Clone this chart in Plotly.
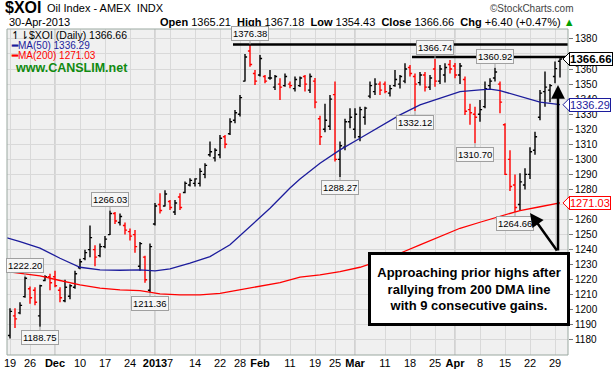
import plotly.graph_objects as go

# ---------------- DATA ----------------
# trading-day index 0 = 19-Nov-2012 ... 110 = 30-Apr-2013
opens = [1183, 1196, 1198, 1208.8, 1214, 1213, 1196, 1219.5, 1222, 1222,
         1213, 1206, 1209, 1215, 1228, 1234, 1240, 1240, 1236, 1242,
         1250, 1264, 1258, 1256, 1252, 1250, 1229, 1235, 1213, 1257,
         1270, 1269, 1272, 1265, 1275, 1278, 1283, 1284, 1284, 1290,
         1303, 1301, 1303, 1315, 1317, 1326, 1330, 1352, 1372, 1357,
         1356, 1355, 1354, 1348, 1350, 1349, 1350, 1347, 1349, 1355,
         1346, 1352, 1327, 1320, 1322, 1343, 1300, 1308, 1325, 1320,
         1315, 1328, 1342, 1345, 1350, 1350, 1344, 1349, 1350, 1352,
         1361, 1355, 1351, 1356, 1348, 1360, 1352, 1356, 1363, 1362,
         1356, 1353, 1333, 1330, 1330, 1335, 1349, 1354, 1350, 1323,
         1300, 1283, 1270, 1283, 1290, 1306, 1328, 1345, 1346, 1355,
         1365.21]
highs = [1201, 1201, 1205, 1222.2, 1215.5, 1215, 1216.6, 1223, 1224, 1226,
         1215, 1220, 1217, 1226, 1234, 1240, 1256, 1243, 1244, 1249,
         1266.03, 1265, 1264, 1258, 1254, 1253, 1245, 1236, 1244, 1271,
         1277.5, 1279.5, 1273, 1273, 1277.5, 1285.2, 1287.4, 1287.4, 1294.1, 1297.4,
         1311.8, 1307.4, 1316.2, 1316.2, 1327.3, 1332.8, 1342.8, 1370, 1376.38, 1359.4,
         1369.4, 1356, 1359.4, 1356, 1353.9, 1357, 1351.7, 1355, 1355, 1356,
         1357, 1354, 1329, 1337, 1342.8, 1351.7, 1311.8, 1327, 1334, 1334,
         1335, 1335, 1351.7, 1353.9, 1351.7, 1351.7, 1349.4, 1359.4, 1356, 1363.8,
         1362.7, 1357, 1358, 1358, 1356, 1366.74, 1362.7, 1363.8, 1366, 1364,
         1364, 1355, 1337, 1335, 1339.5, 1351.7, 1353.9, 1360.92, 1351.7, 1324,
         1306, 1290, 1290.8, 1294, 1308, 1318.4, 1346.1, 1358.3, 1350, 1365,
         1367.18]
lows = [1181, 1188, 1197, 1208, 1204, 1203, 1188.75, 1219, 1213, 1215,
        1205, 1205, 1207, 1214, 1227, 1233, 1235, 1229, 1235, 1241,
        1249.8, 1257, 1256, 1250, 1246, 1238, 1226, 1218, 1211.36, 1256,
        1264, 1268.6, 1266.4, 1263, 1266.4, 1277.5, 1281.9, 1281.9, 1281.9, 1287.4,
        1301.8, 1298.5, 1300.7, 1307.4, 1316.2, 1324, 1328.4, 1351.7, 1361.6, 1349.4,
        1355, 1350.6, 1352.8, 1346, 1339.5, 1348.3, 1347.2, 1345, 1348, 1345,
        1344, 1334, 1309.6, 1318, 1319.5, 1298.5, 1288.27, 1306, 1320.7, 1314,
        1312, 1323, 1340.6, 1342.8, 1342.8, 1343.9, 1341.7, 1348.3, 1347, 1350.6,
        1355, 1332.12, 1349, 1345, 1346, 1348.3, 1350, 1351, 1357, 1353.9,
        1350, 1329.5, 1323, 1310.7, 1325, 1334, 1346, 1351.7, 1330.6, 1289.6,
        1279, 1264.66, 1266, 1280, 1287, 1303, 1326, 1335, 1338, 1350.6,
        1354.43]
closes = [1199, 1194, 1203, 1221, 1208, 1205, 1216, 1222, 1218, 1216,
          1208, 1215, 1216, 1224, 1232, 1238, 1248, 1235, 1242, 1247,
          1264, 1259, 1262, 1253, 1249, 1242, 1244, 1220, 1242, 1269,
          1266, 1277, 1268, 1271, 1268, 1284, 1286, 1287, 1292, 1296,
          1305, 1306, 1314, 1310, 1325, 1331, 1341, 1368, 1363, 1352,
          1367, 1352, 1354, 1355, 1348, 1355, 1349, 1353, 1354, 1350,
          1355, 1338, 1315, 1326, 1340, 1300, 1309, 1325, 1328, 1330,
          1333, 1334, 1349, 1350, 1346, 1345, 1347, 1353, 1355, 1360,
          1357, 1350, 1356, 1348, 1354, 1352, 1360, 1361, 1360, 1356,
          1362, 1332, 1331, 1328, 1333, 1347, 1352, 1358, 1338, 1290,
          1282, 1268, 1285, 1290, 1305, 1315, 1344, 1348, 1349, 1360.26,
          1366.66]

# moving averages read at sample points (trading-day index, value)
ma50_idx = [-0.6, 2, 6, 10, 14, 18, 22, 26, 29, 32, 36, 40, 44, 48, 52, 56, 58,
            62, 66, 70, 74, 78, 82, 86, 90, 94, 96, 98, 102, 106, 110]
ma50_val = [1247.8, 1245.4, 1241, 1234.3, 1228.3, 1226.5, 1226.3, 1226.5, 1225.9,
            1227.2, 1231, 1235.4, 1243.2, 1255.3, 1267.5, 1281, 1287, 1297.4,
            1306.3, 1314, 1321.8, 1329.5, 1336.2, 1340.6, 1345, 1346.1, 1346.6,
            1345.7, 1341.7, 1338, 1336.29]
ma200_idx = [-0.6, 6, 10, 14, 18, 22, 26, 30, 34, 38, 42, 46, 50, 54, 58, 62, 66,
             70, 74, 78, 82, 86, 90, 94, 98, 102, 106, 110]
ma200_val = [1225.4, 1222.6, 1219.5, 1216.6, 1214.4, 1213.3, 1212.8, 1210.6,
             1209.9, 1209.9, 1211, 1213.3, 1215.5, 1218.1, 1221.7, 1223.2,
             1225.4, 1228.3, 1232.7, 1237.6, 1243.2, 1248.7, 1254.2, 1258.2,
             1262.3, 1266, 1268.5, 1271.03]

tick_idx = [0, 4, 9, 14, 19, 24, 29, 32, 37, 42, 46, 50, 56, 61, 65, 69, 75,
            80, 85, 89, 94, 99, 104, 109]
tick_text = ["19", "26", "<b>Dec</b>", "10", "17", "24", "<b>2013</b>", "7", "14",
             "22", "28", "<b>Feb</b>", "11", "19", "25", "<b>Mar</b>", "11", "18",
             "25", "<b>Apr</b>", "8", "15", "22", "29"]
month_idx = [9, 29, 50, 69, 89]

y_ticks = list(range(1180, 1381, 10))
y_hidden = [1370, 1270]          # covered by the value tags in the reference

high_label_idx = [3, 20, 48, 85, 97]
low_label_idx = [6, 28, 66, 81, 93, 101]

last_open, last_high, last_low, last_close = 1365.21, 1367.18, 1354.43, 1366.66
chg, chg_pct = 6.40, 0.47
ma50_last, ma200_last = 1336.29, 1271.03
resist_hi, resist_lo = 1376.38, 1368.0

# ---------------- FIGURE ----------------
FONT = "Liberation Sans, Arial, sans-serif"
W, H = 616, 379
PL, PR, PT, PB = 7, 568, 29, 355
YMIN, YMAX = 1170, 1386.6


def pxx(x):
    return (x - PL) / (PR - PL)


def pxy(y):
    return (PB - y) / (PB - PT)


UNIT_PX = (PB - PT) / (YMAX - YMIN)

x = list(range(len(closes)))
up = [i == 0 or closes[i] >= closes[i - 1] for i in x]

fig = go.Figure()


def ohlc_trace(sel, color):
    return go.Ohlc(
        x=[x[i] for i in sel], open=[opens[i] for i in sel],
        high=[highs[i] for i in sel], low=[lows[i] for i in sel],
        close=[closes[i] for i in sel],
        increasing=dict(line=dict(color=color, width=1.4)),
        decreasing=dict(line=dict(color=color, width=1.4)),
        tickwidth=0.42, showlegend=False, hoverinfo="skip")


fig.add_trace(go.Scatter(x=ma200_idx, y=ma200_val, mode="lines",
                         line=dict(color="#ff0000", width=1.3), hoverinfo="skip"))
fig.add_trace(go.Scatter(x=ma50_idx, y=ma50_val, mode="lines",
                         line=dict(color="#1c1c9c", width=1.3), hoverinfo="skip"))
fig.add_trace(ohlc_trace([i for i in x if up[i]], "#000000"))
fig.add_trace(ohlc_trace([i for i in x if not up[i]], "#ff0000"))

shapes = []
for m in month_idx:
    shapes.append(dict(type="line", xref="x", yref="paper", x0=m, x1=m, y0=0, y1=1,
                       line=dict(color="#b4b4b4", width=1), layer="below"))
# resistance lines
shapes.append(dict(type="line", xref="x", yref="y", x0=44.6, x1=111.6,
                   y0=resist_hi, y1=resist_hi, line=dict(color="black", width=2.5)))
shapes.append(dict(type="line", xref="x", yref="y", x0=80.4, x1=111.4,
                   y0=resist_lo, y1=resist_lo, line=dict(color="black", width=2.5)))
# plot border
shapes.append(dict(type="rect", xref="paper", yref="paper", x0=0, x1=1, y0=0, y1=1,
                   line=dict(color="#9aa8a0", width=1)))

ann = []
# header
ann.append(dict(xref="paper", yref="paper", x=pxx(3), y=pxy(8), xanchor="left",
                yanchor="middle", showarrow=False, text="<b>$XOI</b>",
                font=dict(family=FONT, size=16, color="black")))
ann.append(dict(xref="paper", yref="paper", x=pxx(45), y=pxy(8), xanchor="left",
                yanchor="middle", showarrow=False, text="Oil Index - AMEX  INDX",
                font=dict(family=FONT, size=11, color="black")))
ann.append(dict(xref="paper", yref="paper", x=pxx(576), y=pxy(9), xanchor="right",
                yanchor="middle", showarrow=False, text="©StockCharts.com",
                font=dict(family=FONT, size=10, color="#444444")))
ann.append(dict(xref="paper", yref="paper", x=pxx(7), y=pxy(22), xanchor="left",
                yanchor="middle", showarrow=False, text="30-Apr-2013",
                font=dict(family=FONT, size=11, color="black")))
stats = (f"<b>Open</b> {last_open:.2f}  <b>High</b> {last_high:.2f}  "
         f"<b>Low</b> {last_low:.2f}  <b>Close</b> {last_close:.2f}  "
         f"<b>Chg</b> +{chg:.2f} (+{chg_pct:.2f}%) "
         f"<span style='color:#00a000'>▲</span>")
ann.append(dict(xref="paper", yref="paper", x=pxx(577), y=pxy(22), xanchor="right",
                yanchor="middle", showarrow=False, text=stats,
                font=dict(family=FONT, size=11, color="black")))
# legend block
ann.append(dict(xref="paper", yref="paper", x=pxx(9), y=pxy(34.5), xanchor="left",
                yanchor="middle", showarrow=False,
                text=f"↿⇂$XOI (Daily) {last_close:.2f}",
                font=dict(family=FONT, size=10.5, color="black")))
ann.append(dict(xref="paper", yref="paper", x=pxx(9), y=pxy(45), xanchor="left",
                yanchor="middle", showarrow=False, text=f"<b>━</b>MA(50) {ma50_last:.2f}",
                font=dict(family=FONT, size=10, color="#1c1c9c")))
ann.append(dict(xref="paper", yref="paper", x=pxx(9), y=pxy(55.5), xanchor="left",
                yanchor="middle", showarrow=False, text=f"<b>━</b>MA(200) {ma200_last:.2f}",
                font=dict(family=FONT, size=10, color="#ff0000")))
ann.append(dict(xref="paper", yref="paper", x=pxx(13), y=pxy(67.5), xanchor="left",
                yanchor="middle", showarrow=False, text="<b>www.CANSLIM.net</b>",
                font=dict(family=FONT, size=12.5, color="#108a10")))

# high / low value tags
for i in high_label_idx:
    ann.append(dict(x=i, y=highs[i], xref="x", yref="y", text=f"{highs[i]:.2f}",
                    showarrow=True, arrowhead=0, arrowwidth=1, arrowcolor="#a0a0a0",
                    ax=0, ay=-11, bgcolor="#f6f6f6", bordercolor="#a0a0a0",
                    borderwidth=1, borderpad=1,
                    font=dict(family=FONT, size=9.5, color="black")))
for i in low_label_idx:
    ann.append(dict(x=i, y=lows[i], xref="x", yref="y", text=f"{lows[i]:.2f}",
                    showarrow=True, arrowhead=0, arrowwidth=1, arrowcolor="#a0a0a0",
                    ax=0, ay=11, bgcolor="#f6f6f6", bordercolor="#a0a0a0",
                    borderwidth=1, borderpad=1,
                    font=dict(family=FONT, size=9.5, color="black")))

# right-axis value boxes with a left-pointing tip
half = 6.5 / UNIT_PX
for val, col, bold in [(last_close, "black", True), (ma50_last, "#1c1c9c", False),
                       (ma200_last, "#ff0000", False)]:
    t = f"{val:.2f}"
    xt, xb = pxx(563), pxx(569.5)
    shapes.append(dict(type="path", xref="paper", yref="y",
                       path=f"M {xt},{val} L {xb},{val + half} L {xb},{val - half} Z",
                       fillcolor="white", line=dict(color=col, width=1), layer="above"))
    ann.append(dict(xref="paper", yref="y", x=1, y=val, xanchor="left", xshift=1,
                    yanchor="middle", showarrow=False,
                    text=f"<b>{t}</b>" if bold else t, bgcolor="white",
                    bordercolor=col, borderwidth=1, borderpad=0,
                    font=dict(family=FONT, size=11.5 if bold else 11, color=col)))

# arrows
ann.append(dict(xref="x", yref="y", axref="x", ayref="y", x=109.6, y=1349.4,
                ax=109.6, ay=1238.5, showarrow=True, arrowhead=2, arrowsize=1.1,
                arrowwidth=2.5, arrowcolor="black", text=""))
ann.append(dict(xref="x", yref="y", axref="x", ayref="y", x=104, y=1264.4,
                ax=109.6, ay=1238.5, showarrow=True, arrowhead=2, arrowsize=1.1,
                arrowwidth=2.5, arrowcolor="black", text=""))
# comment box
ann.append(dict(xref="paper", yref="paper", x=pxx(469), y=pxy(288.5), xanchor="center",
                yanchor="middle", showarrow=False,
                text="<b>Approaching prior highs after<br>rallying from 200 DMA line<br>"
                     "with 9 consecutive gains.</b>",
                bgcolor="white", bordercolor="black", borderwidth=3, borderpad=4,
                width=188, height=60,
                font=dict(family=FONT, size=13, color="black")))

fig.update_layout(
    width=W, height=H, margin=dict(l=PL, r=W - PR, t=PT, b=H - PB, autoexpand=False),
    paper_bgcolor="white", plot_bgcolor="#f0f0f0", showlegend=False,
    font=dict(family=FONT, size=11, color="black"),
    shapes=shapes, annotations=ann)
fig.update_xaxes(range=[-0.6, 111.6], tickmode="array", tickvals=tick_idx,
                 ticktext=tick_text, tickangle=0, automargin=False,
                 showgrid=True, gridcolor="#d9d9d9", gridwidth=1,
                 zeroline=False, ticks="", rangeslider=dict(visible=False),
                 tickfont=dict(family=FONT, size=11, color="black"), fixedrange=True)
fig.update_yaxes(side="right", range=[YMIN, YMAX], tickmode="array",
                 tickvals=y_ticks,
                 ticktext=["" if v in y_hidden else str(v) for v in y_ticks],
                 automargin=False,
                 showgrid=True, gridcolor="#d9d9d9", gridwidth=1, zeroline=False,
                 ticks="outside", ticklen=4, tickcolor="#777777",
                 tickfont=dict(family=FONT, size=10, color="black"), fixedrange=True)

fig.write_html("out.html", config={"displayModeBar": False},
               post_script="document.body.style.margin='0';")
